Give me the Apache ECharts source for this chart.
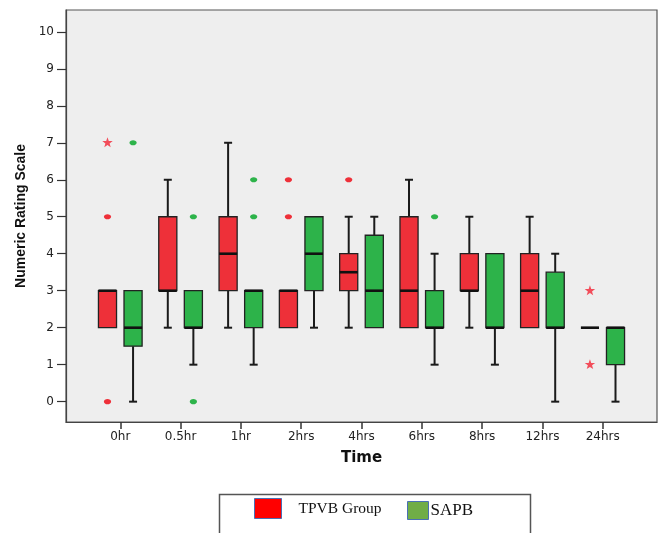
<!DOCTYPE html>
<html>
<head>
<meta charset="utf-8">
<script src="https://cdn.jsdelivr.net/npm/echarts@6/dist/echarts.min.js"></script>
<style>
html,body{margin:0;padding:0;background:#fff;}
#chart{width:658px;height:533px;}
</style>
</head>
<body>
<div id="chart"></div>
<script>
// ---- data ----
const categories = ['0hr','0.5hr','1hr','2hrs','4hrs','6hrs','8hrs','12hrs','24hrs'];
const yTicks = [0,1,2,3,4,5,6,7,8,9,10];
// [min, Q1, median, Q3, max]
const tpvbBox = [[2,2,3,3,3],[2,3,3,5,6],[2,3,4,5,7],[2,2,3,3,3],[2,3,3.5,4,5],[2,2,3,5,6],[2,3,3,4,5],[2,2,3,4,5],[2,2,2,2,2]];
const sapbBox = [[0,1.5,2,3,3],[1,2,2,3,3],[1,2,3,3,3],[2,3,4,5,5],[2,2,3,4.5,5],[1,2,2,3,4],[1,2,2,4,4],[0,2,2,3.5,4],[0,1,2,2,2]];
const tpvbOutliers = [[5,0],[],[],[6,5],[6],[],[],[],[]];
const tpvbExtremes = [[7],[],[],[],[],[],[],[],[3,1]];
const sapbOutliers = [[7],[5,0],[5,6],[],[],[5],[],[],[]];
const sapbExtremes = [[],[],[],[],[],[],[],[],[]];

const chart = echarts.init(document.getElementById('chart'), null, {renderer:'canvas'});

function makeRender(side, color, outliers, extremes, starColor) {
  return function(params, api) {
    const i = api.value(0);
    const band = api.size([1, 0])[0];
    const cx = api.coord([i, 0])[0] + side * band * 0.212;
    const w = band * 0.3;
    const yv = k => api.coord([i, api.value(k)])[1];
    const yMin = yv(1), yQ1 = yv(2), yMed = yv(3), yQ3 = yv(4), yMax = yv(5);
    const lineStyle = {stroke:'#1a1a1a', lineWidth:2};
    const children = [];
    if (yMax < yQ3 - 0.5) {
      children.push({type:'line', shape:{x1:cx, y1:yQ3, x2:cx, y2:yMax}, style:lineStyle});
      children.push({type:'line', shape:{x1:cx-4, y1:yMax, x2:cx+4, y2:yMax}, style:lineStyle});
    }
    if (yMin > yQ1 + 0.5) {
      children.push({type:'line', shape:{x1:cx, y1:yQ1, x2:cx, y2:yMin}, style:lineStyle});
      children.push({type:'line', shape:{x1:cx-4, y1:yMin, x2:cx+4, y2:yMin}, style:lineStyle});
    }
    if (yQ1 - yQ3 > 0.5) {
      children.push({type:'rect', shape:{x:cx-w/2, y:yQ3, width:w, height:yQ1-yQ3},
        style:{fill:color, stroke:'#222', lineWidth:1.3}});
    }
    children.push({type:'line', shape:{x1:cx-w/2, y1:yMed, x2:cx+w/2, y2:yMed},
      style:{stroke:'#111', lineWidth:2.6}});
    (outliers[params.dataIndex] || []).forEach(v => {
      const p = api.coord([i, v]);
      children.push({type:'ellipse', shape:{cx:cx, cy:p[1], rx:3.6, ry:2.6}, style:{fill:color}});
    });
    (extremes[params.dataIndex] || []).forEach(v => {
      const p = api.coord([i, v]);
      const pts = [];
      for (let k = 0; k < 10; k++) {
        const r = k % 2 === 0 ? 5.5 : 2.2;
        const a = -Math.PI/2 + k * Math.PI / 5;
        pts.push([cx + r*Math.cos(a), p[1] + r*Math.sin(a)]);
      }
      children.push({type:'polygon', shape:{points:pts}, style:{fill:starColor}});
    });
    return {type:'group', children};
  };
}

const redColor = '#ee3039';
const greenColor = '#2db34a';

const option = {
  backgroundColor:'#ffffff',
  animation:false,
  grid:{left:66, right:1, top:10, bottom:111, show:true, backgroundColor:'#eeeeee', borderColor:'#555', borderWidth:1.2},
  xAxis:{
    type:'value', min:-0.9, max:8.9,
    name:'Time', nameLocation:'middle', nameGap:29,
    nameTextStyle:{fontFamily:'DejaVu Sans', fontWeight:'bold', fontSize:15, color:'#111'},
    splitLine:{show:false},
    axisLine:{show:true, onZero:false, lineStyle:{color:'#444', width:1.2}},
    axisTick:{show:true, length:7, lineStyle:{color:'#333', width:1.5}, customValues:categories.map((c,i)=>i)},
    axisLabel:{customValues:categories.map((c,i)=>i), formatter:v=>categories[Math.round(v)], fontFamily:'DejaVu Sans', fontSize:12, color:'#222', margin:9}
  },
  yAxis:{
    type:'value', min:-0.55, max:10.59,
    name:'Numeric Rating Scale', nameLocation:'middle', nameGap:35,
    nameTextStyle:{fontFamily:'Liberation Sans', fontWeight:'bold', fontSize:14, color:'#111'},
    splitLine:{show:false},
    axisLine:{show:true, onZero:false, lineStyle:{color:'#444', width:1.2}},
    axisTick:{show:true, length:9, lineStyle:{color:'#333', width:1.2}, customValues:yTicks},
    axisLabel:{customValues:yTicks, fontFamily:'DejaVu Sans', fontSize:12, color:'#222', margin:12}
  },
  legend:[
    {left:254, top:498, padding:0, itemWidth:27, itemHeight:20, icon:'rect',
     data:[{name:'TPVB Group', itemStyle:{color:'#ff0000', borderColor:'#4a6fb5', borderWidth:1}}],
     textStyle:{fontFamily:'Liberation Serif', fontSize:15.5, color:'#111', padding:[4,0,0,12]}},
    {left:407, top:501, padding:0, itemWidth:21, itemHeight:18, icon:'rect',
     data:[{name:'SAPB', itemStyle:{color:'#70ad47', borderColor:'#4a6fb5', borderWidth:1}}],
     textStyle:{fontFamily:'Liberation Serif', fontSize:17, color:'#111', padding:[0,0,0,-3]}}
  ],
  graphic:[{type:'rect', left:217, top:492, shape:{width:311, height:50}, style:{fill:'none', stroke:'#555', lineWidth:1.5}, silent:true}],
  series:[
    {name:'TPVB Group', type:'custom', itemStyle:{color:redColor},
     renderItem:makeRender(-1, redColor, tpvbOutliers, tpvbExtremes, '#f24d5a'),
     encode:{x:0, y:[1,2,3,4,5]},
     data:tpvbBox.map((b,i)=>[i].concat(b))},
    {name:'SAPB', type:'custom', itemStyle:{color:greenColor},
     renderItem:makeRender(1, greenColor, sapbOutliers, sapbExtremes, '#2db34a'),
     encode:{x:0, y:[1,2,3,4,5]},
     data:sapbBox.map((b,i)=>[i].concat(b))}
  ]
};
chart.setOption(option);
</script>
</body>
</html>
